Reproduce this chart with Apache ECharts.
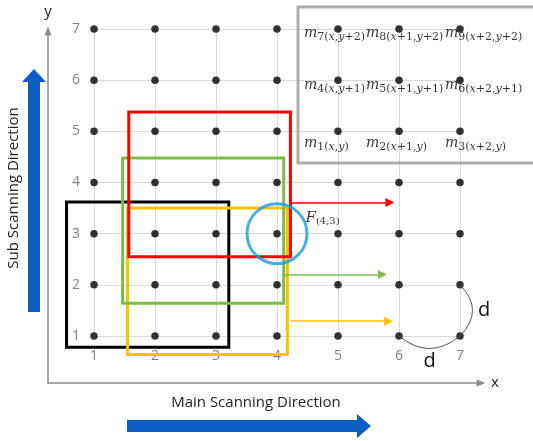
<!DOCTYPE html>
<html>
<head>
<meta charset="utf-8">
<script src="https://cdn.jsdelivr.net/npm/echarts@6/dist/echarts.min.js"></script>
<style>
  html, body { margin: 0; padding: 0; background: #ffffff; }
  #chart { width: 533px; height: 441px; }
</style>
</head>
<body>
<div id="chart"></div>
<script>
// Pixel lattice positions
const gridX = [1, 2, 3, 4, 5, 6, 7];
const gridY = [1, 2, 3, 4, 5, 6, 7];

// Scanning windows: [xMin, yMin, xMax, yMax]
const windowNames = ['black', 'yellow', 'green', 'red'];
const windowBounds = [
  [0.55, 0.78, 3.21, 3.62],
  [1.55, 0.64, 4.17, 3.50],
  [1.47, 1.64, 4.11, 4.48],
  [1.57, 2.55, 4.22, 5.38]
];

// Window shift arrows: [xStart, xEnd, y]
const shiftArrows = [
  [4.22, 5.85, 3.61],
  [4.13, 5.73, 2.20],
  [4.22, 5.83, 1.29]
];

// Pixel of interest
const focusPoint = [4, 3];
const focusName = 'F';
const focusSub = '(4,3)';

// Mask element labels (rows top to bottom, columns left to right)
const maskCols = [5, 6, 7];
const maskRows = [7, 6, 5];
const maskSubs = [
  ['7(x,y+2)', '8(x+1,y+2)', '9(x+2,y+2)'],
  ['4(x,y+1)', '5(x+1,y+1)', '6(x+2,y+1)'],
  ['1(x,y)', '2(x+1,y)', '3(x+2,y)']
];

// Pitch arcs: [fromX, fromY, toX, toY]
const pitchArcs = [[7, 2, 7, 1], [7, 1, 6, 1]];
const pitchLabel = 'd';

// ---- styling ----
const windowColors = ['#000000', '#FFC000', '#78BE46', '#FF0000'];
const arrowColors = ['#FF0000', '#78BE46', '#FFC000'];
const maskColDx = [-33, -32, -14];
const maskRowDy = [-5, -4, 3];
const serif = 'DejaVu Serif';
const sans = '"Open Sans", "Noto Sans", sans-serif';

function subRich(s) {
  let out = '', buf = '';
  for (const ch of s) {
    if (ch === 'x' || ch === 'y') {
      if (buf) { out += '{n|' + buf + '}'; buf = ''; }
      out += '{v|' + ch + '}';
    } else {
      buf += ch;
    }
  }
  if (buf) out += '{n|' + buf + '}';
  return out;
}

const mathRich = {
  m: { fontFamily: serif, fontStyle: 'italic', fontSize: 14, lineHeight: 20, color: '#000' },
  n: { fontFamily: serif, fontSize: 11, lineHeight: 20, padding: [8, 0, 0, 0], color: '#000' },
  v: { fontFamily: serif, fontStyle: 'italic', fontSize: 11, lineHeight: 20, padding: [8, 0, 0, 0], color: '#000' }
};

const dots = [];
gridY.forEach(y => gridX.forEach(x => dots.push([x, y])));

const maskData = [];
maskRows.forEach((y, r) => maskCols.forEach((x, c) => {
  maskData.push({
    value: [x, y],
    label: {
      formatter: '{m|m}' + subRich(maskSubs[r][c]),
      position: [maskColDx[c], maskRowDy[r]]
    }
  });
}));

const chart = echarts.init(document.getElementById('chart'), null, { renderer: 'canvas' });

const option = {
  animation: false,
  backgroundColor: '#ffffff',
  grid: [
    { left: 48, right: 52, top: 31, bottom: 58 },
    { left: 94, right: 73, top: 29, bottom: 105 }
  ],
  xAxis: [
    {
      gridIndex: 0, type: 'value', min: 0, max: 1,
      axisLine: { show: true, lineStyle: { color: '#8c8c8c', width: 1.5 }, symbol: ['none', 'triangle'], symbolSize: [7, 9] },
      axisTick: { show: false }, axisLabel: { show: false }, splitLine: { show: false },
      name: 'x', nameLocation: 'end', nameGap: 10,
      nameTextStyle: { color: '#222', fontSize: 15, fontFamily: sans, verticalAlign: 'middle' }
    },
    {
      gridIndex: 1, type: 'value', min: 1, max: 7, interval: 1,
      axisLine: { show: false }, axisTick: { show: false },
      axisLabel: { color: '#808080', fontSize: 14, fontFamily: sans, margin: 13 },
      splitLine: { show: true, lineStyle: { color: '#d9d9d9', width: 1 } }
    }
  ],
  yAxis: [
    {
      gridIndex: 0, type: 'value', min: 0, max: 1,
      axisLine: { show: true, lineStyle: { color: '#8c8c8c', width: 1.5 }, symbol: ['none', 'triangle'], symbolSize: [7, 9] },
      axisTick: { show: false }, axisLabel: { show: false }, splitLine: { show: false },
      name: 'y', nameLocation: 'end', nameGap: 12,
      nameTextStyle: { color: '#222', fontSize: 15, fontFamily: sans, align: 'center' }
    },
    {
      gridIndex: 1, type: 'value', min: 1, max: 7, interval: 1,
      axisLine: { show: false }, axisTick: { show: false },
      axisLabel: { color: '#808080', fontSize: 14, fontFamily: sans, margin: 14 },
      splitLine: { show: true, lineStyle: { color: '#d9d9d9', width: 1 } }
    }
  ],
  graphic: [
    // mask legend frame
    { type: 'rect', z: 1, silent: true, shape: { x: 298, y: 7, width: 260, height: 156 },
      style: { fill: 'none', stroke: '#adadad', lineWidth: 3 } },
    // sub scanning direction arrow
    { type: 'polygon', silent: true,
      shape: { points: [[28, 312], [28, 82], [22, 82], [34, 69], [46, 82], [40, 82], [40, 312]] },
      style: { fill: '#0b5fc4' } },
    { type: 'text', silent: true, x: 14, y: 188, rotation: Math.PI / 2,
      style: { text: 'Sub Scanning Direction', font: '15px ' + sans, fill: '#222', align: 'center', verticalAlign: 'middle' } },
    // main scanning direction arrow
    { type: 'polygon', silent: true,
      shape: { points: [[127, 420], [357, 420], [357, 414], [371, 426], [357, 438], [357, 432], [127, 432]] },
      style: { fill: '#0b5fc4' } },
    { type: 'text', silent: true, x: 256, y: 403,
      style: { text: 'Main Scanning Direction', font: '15px ' + sans, fill: '#222', align: 'center', verticalAlign: 'middle' } }
  ],
  series: [
    {
      name: 'pixels', type: 'scatter', xAxisIndex: 1, yAxisIndex: 1, silent: true, z: 3,
      symbol: 'circle', symbolSize: 7.5, itemStyle: { color: '#000' },
      data: dots
    },
    {
      name: 'windows', type: 'custom', xAxisIndex: 1, yAxisIndex: 1, silent: true, clip: false, z: 4,
      data: windowBounds.map((b, i) => ({ name: windowNames[i], value: b })),
      renderItem: function (params, api) {
        const p0 = api.coord([api.value(0), api.value(3)]);
        const p1 = api.coord([api.value(2), api.value(1)]);
        return {
          type: 'rect',
          shape: { x: p0[0], y: p0[1], width: p1[0] - p0[0], height: p1[1] - p0[1] },
          style: { fill: 'none', stroke: windowColors[params.dataIndex], lineWidth: 3 }
        };
      }
    },
    {
      name: 'shift', type: 'lines', coordinateSystem: 'cartesian2d', xAxisIndex: 1, yAxisIndex: 1,
      silent: true, clip: false, z: 4,
      symbol: ['none', 'triangle'], symbolSize: [7, 9],
      lineStyle: { width: 1.5, opacity: 1 },
      data: shiftArrows.map((a, i) => ({
        coords: [[a[0], a[2]], [a[1], a[2]]],
        lineStyle: { color: arrowColors[i], width: 1.5 }
      }))
    },
    {
      name: 'focus', type: 'scatter', xAxisIndex: 1, yAxisIndex: 1, silent: true, clip: false, z: 6,
      symbol: 'circle', symbolSize: 60,
      itemStyle: { color: 'rgba(0,0,0,0)', borderColor: '#1a9ae0', borderWidth: 3 },
      label: {
        show: true, position: [60, 6],
        formatter: '{F|' + focusName + '}{n|' + focusSub + '}',
        rich: {
          F: { fontFamily: serif, fontStyle: 'italic', fontSize: 15, lineHeight: 20, color: '#000' },
          n: { fontFamily: serif, fontSize: 10, lineHeight: 20, padding: [7, 0, 0, 0], color: '#000' }
        }
      },
      data: [focusPoint]
    },
    {
      name: 'pitch', type: 'custom', xAxisIndex: 1, yAxisIndex: 1, silent: true, clip: false, z: 4,
      data: pitchArcs,
      renderItem: function (params, api) {
        const a = api.coord([api.value(0), api.value(1)]);
        const b = api.coord([api.value(2), api.value(3)]);
        const dx = b[0] - a[0], dy = b[1] - a[1], len = Math.hypot(dx, dy);
        const nx = dy / len, ny = -dx / len;
        const mx = (a[0] + b[0]) / 2, my = (a[1] + b[1]) / 2;
        return {
          type: 'group',
          children: [
            { type: 'bezierCurve',
              shape: { x1: a[0], y1: a[1], x2: b[0], y2: b[1], cpx1: mx + nx * 25, cpy1: my + ny * 25 },
              style: { fill: 'none', stroke: '#555', lineWidth: 1 } },
            { type: 'text', x: mx + nx * 24, y: my + ny * 25,
              style: { text: pitchLabel, font: '20px ' + sans, fill: '#111', align: 'center', verticalAlign: 'middle' } }
          ]
        };
      }
    },
    {
      name: 'mask', type: 'scatter', xAxisIndex: 1, yAxisIndex: 1, silent: true, clip: false, z: 7,
      symbol: 'circle', symbolSize: 2, itemStyle: { color: 'rgba(0,0,0,0)' },
      label: { show: true, rich: mathRich },
      data: maskData
    }
  ]
};

chart.setOption(option);
</script>
</body>
</html>
